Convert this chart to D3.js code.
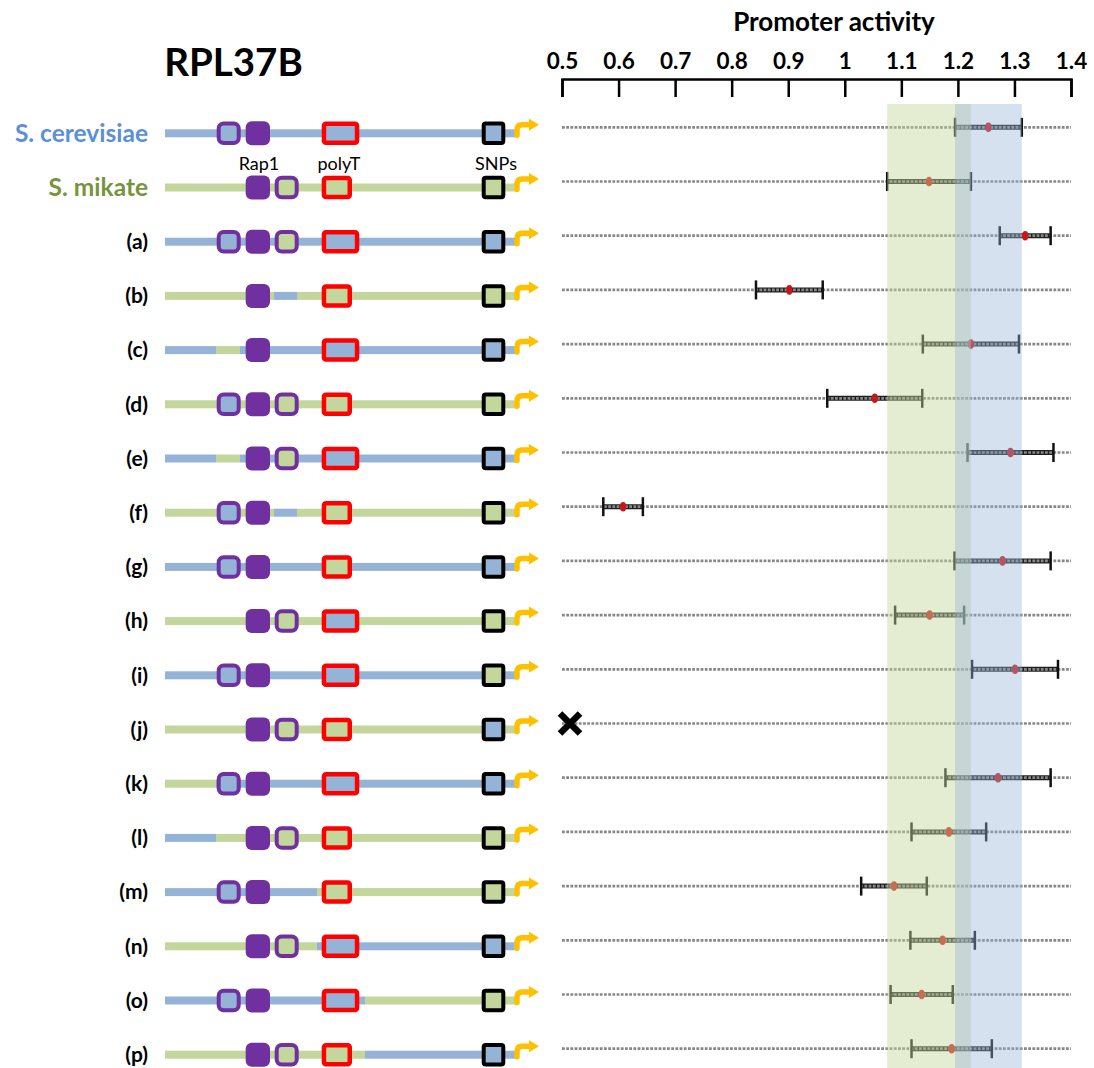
<!DOCTYPE html>
<html>
<head>
<meta charset="utf-8">
<script src="https://cdn.jsdelivr.net/npm/d3@7/dist/d3.min.js"></script>
<style>
  html, body { margin: 0; padding: 0; background: #fff; }
  svg { display: block; }
  text { font-family: Lato, "Open Sans", "DejaVu Sans", sans-serif; }
</style>
</head>
<body>
<svg id="chart" width="1094" height="1068"></svg>
<script>
// ---- constructs (rows, top to bottom) ----
const constructs = ["S. cerevisiae", "S. mikate", "(a)", "(b)", "(c)", "(d)", "(e)", "(f)", "(g)",
  "(h)", "(i)", "(j)", "(k)", "(l)", "(m)", "(n)", "(o)", "(p)"];

// backbone origin for the 7 promoter regions
// (upstream, Rap1 site 1, Rap1 site 2, Rap1 site 3, spacer, polyT, downstream):
// c = S. cerevisiae, m = S. mikate
const backbone = ["ccccccc", "mmmmmmm", "ccccccc", "mmmcmmm", "cmccccc", "mmmmmmm", "cmccccc",
  "mmmcmmm", "ccccccc", "mmmmmmm", "ccccccc", "mmmmmmm", "mcccccc", "cmmmmmm", "cccccmm",
  "mmmmmcc", "ccccccm", "mmmmmmc"];
// Rap1 binding site 1 (cerevisiae) and site 3 (mikate) present?
const site1 = [1, 0, 1, 0, 0, 1, 0, 1, 1, 0, 1, 0, 1, 0, 1, 0, 1, 0];
const site3 = [0, 1, 1, 0, 0, 1, 1, 0, 0, 1, 0, 1, 0, 1, 0, 1, 0, 1];
// origin of the polyT tract and of the SNP block
const polyT = ["c", "m", "c", "m", "c", "m", "c", "m", "m", "c", "c", "m", "c", "m", "m", "c", "c", "m"];
const snps  = ["c", "m", "c", "m", "c", "m", "c", "m", "c", "m", "m", "c", "c", "m", "m", "c", "m", "c"];

// ---- promoter activity (mean and error), null = no activity measured ----
const activity = [1.254, 1.149, 1.319, 0.902, 1.223, 1.053, 1.293, 0.608, 1.279,
  1.150, 1.301, null, 1.271, 1.184, 1.087, 1.173, 1.136, 1.189];
const activityErr = [0.059, 0.074, 0.045, 0.059, 0.085, 0.084, 0.076, 0.035, 0.085,
  0.061, 0.076, null, 0.093, 0.066, 0.058, 0.057, 0.055, 0.071];

// ---- axis ----
const tickValues = [0.5, 0.6, 0.7, 0.8, 0.9, 1.0, 1.1, 1.2, 1.3, 1.4];
const tickLabels = ["0.5", "0.6", "0.7", "0.8", "0.9", "1", "1.1", "1.2", "1.3", "1.4"];

const COL = {
  c: "#95B3D7", m: "#C3D69B", rap1: "#7030A0", polyT: "#FF0000",
  snp: "#000000", tss: "#FFC000", labelC: "#5B8FD6", labelM: "#77933C"
};

const svg = d3.select("#chart");

const x = d3.scaleLinear().domain([0.5, 1.4]).range([562, 1071]);
const yRow = d3.scalePoint().domain(d3.range(constructs.length)).range([127.3, 1048.7]);
const LEFT_DY = 6; // diagrams sit slightly below the activity rows

// ---- titles ----
svg.append("text").attr("x", 233.5).attr("y", 76).attr("text-anchor", "middle")
  .attr("font-size", 38.5).attr("font-weight", 700).text("RPL37B");
svg.append("text").attr("x", 834).attr("y", 31).attr("text-anchor", "middle")
  .attr("font-size", 26).attr("font-weight", 700).text("Promoter activity");

// ---- axis on top, ticks pointing down ----
const axis = d3.axisTop(x).tickValues(tickValues)
  .tickFormat((d, i) => tickLabels[i]).tickSizeInner(-18).tickSizeOuter(-18).tickPadding(10);
const gAxis = svg.append("g").attr("transform", "translate(0,79)").call(axis);
gAxis.select(".domain").attr("stroke", "#000").attr("stroke-width", 2.5);
gAxis.selectAll(".tick line").attr("stroke", "#000").attr("stroke-width", 2.5);
gAxis.selectAll(".tick text").attr("font-size", 22.5).attr("font-weight", 700)
  .attr("fill", "#000").attr("font-family", "Lato, 'Open Sans', sans-serif");

// ---- row labels ----
const labels = svg.append("g");
constructs.forEach((name, i) => {
  const t = labels.append("text").attr("x", 148).attr("y", yRow(i) + LEFT_DY)
    .attr("dy", "0.35em").attr("text-anchor", "end").attr("font-weight", 700).text(name);
  if (i === 0) t.attr("fill", COL.labelC).attr("font-size", 24.5);
  else if (i === 1) t.attr("fill", COL.labelM).attr("font-size", 24.5);
  else t.attr("fill", "#000").attr("font-size", 21);
});

// ---- promoter diagrams ----
const regionEdges = [165, 216, 240, 274, 297, 317, 365, 517];
const BOX_H = 23.5;
const diagrams = svg.append("g");

function box(g, x0, w, cy, stroke, sw, fill, rx) {
  g.append("rect").attr("x", x0 + sw / 2).attr("y", cy - BOX_H / 2 + sw / 2)
    .attr("width", w - sw).attr("height", BOX_H - sw).attr("rx", rx)
    .attr("fill", fill).attr("stroke", stroke).attr("stroke-width", sw);
}

constructs.forEach((name, i) => {
  const cy = yRow(i) + LEFT_DY;
  const g = diagrams.append("g");
  // backbone segments
  backbone[i].split("").forEach((o, r) => {
    g.append("rect").attr("x", regionEdges[r]).attr("y", cy - 4)
      .attr("width", regionEdges[r + 1] - regionEdges[r]).attr("height", 8)
      .attr("fill", COL[o]);
  });
  // Rap1 sites
  if (site1[i]) box(g, 216.7, 24, cy, COL.rap1, 4, COL.c, 5);
  g.append("rect").attr("x", 245.7).attr("y", cy - 12).attr("width", 24.3).attr("height", 24)
    .attr("rx", 6).attr("fill", COL.rap1);
  if (site3[i]) box(g, 274.7, 24, cy, COL.rap1, 4, COL.m, 5);
  // polyT tract: longer in S. cerevisiae
  const pw = polyT[i] === "c" ? 37.6 : 30.3;
  box(g, 321.7, pw, cy, COL.polyT, 4.5, COL[polyT[i]], 2);
  // SNPs
  box(g, 481.7, 23.6, cy, COL.snp, 4, COL[snps[i]], 2);
  // transcription start arrow
  g.append("path")
    .attr("d", `M517,${cy + 2}V${cy - 3}Q517,${cy - 8.5} 522,${cy - 8.5}H530`)
    .attr("fill", "none").attr("stroke", COL.tss).attr("stroke-width", 5.5)
    .attr("stroke-linecap", "round");
  g.append("path")
    .attr("d", `M529,${cy - 14.5}L539,${cy - 8.5}L529,${cy - 2.5}Z`)
    .attr("fill", COL.tss);
});

// element names under the S. cerevisiae diagram
const annY = yRow(0) + LEFT_DY + 30;
[["Rap1", 259], ["polyT", 339], ["SNPs", 496]].forEach(([t, cx]) => {
  diagrams.append("text").attr("x", cx).attr("y", annY).attr("dy", "0.35em")
    .attr("text-anchor", "middle").attr("font-size", 18).attr("fill", "#000").text(t);
});

// ---- activity rows ----
const plot = svg.append("g");
constructs.forEach((name, i) => {
  const cy = yRow(i);
  const m = activity[i], e = activityErr[i];
  if (m !== null) {
    plot.append("line").attr("x1", x(m - e)).attr("x2", x(m + e)).attr("y1", cy).attr("y2", cy)
      .attr("stroke", "#1e1e1e").attr("stroke-width", 5);
  }
  plot.append("line").attr("x1", x(0.5)).attr("x2", x(1.4)).attr("y1", cy).attr("y2", cy)
    .attr("stroke", "#888").attr("stroke-width", 2.7).attr("stroke-dasharray", "2.8,1.4");
  if (m !== null) {
    [m - e, m + e].forEach(v => {
      plot.append("line").attr("x1", x(v)).attr("x2", x(v)).attr("y1", cy - 9.5).attr("y2", cy + 9.5)
        .attr("stroke", "#111").attr("stroke-width", 2.5);
    });
    plot.append("ellipse").attr("cx", x(m)).attr("cy", cy).attr("rx", 3.2).attr("ry", 4.8)
      .attr("fill", "#C8161B");
  } else {
    // no measurable activity
    const cx = x(0.5) + 8;
    plot.append("path").attr("d", `M${cx - 10},${cy - 10}L${cx + 10},${cy + 10}M${cx + 10},${cy - 10}L${cx - 10},${cy + 10}`)
      .attr("stroke", "#000").attr("stroke-width", 6.5);
  }
});

// ---- wild-type ranges (S. mikate in green, S. cerevisiae in blue) ----
const bandTop = 104;
svg.append("rect").attr("x", x(activity[1] - activityErr[1])).attr("y", bandTop)
  .attr("width", x(activity[1] + activityErr[1]) - x(activity[1] - activityErr[1]))
  .attr("height", 1068 - bandTop).attr("fill", COL.m).attr("fill-opacity", 0.45);
svg.append("rect").attr("x", x(activity[0] - activityErr[0])).attr("y", bandTop)
  .attr("width", x(activity[0] + activityErr[0]) - x(activity[0] - activityErr[0]))
  .attr("height", 1068 - bandTop).attr("fill", COL.c).attr("fill-opacity", 0.4);
</script>
</body>
</html>
